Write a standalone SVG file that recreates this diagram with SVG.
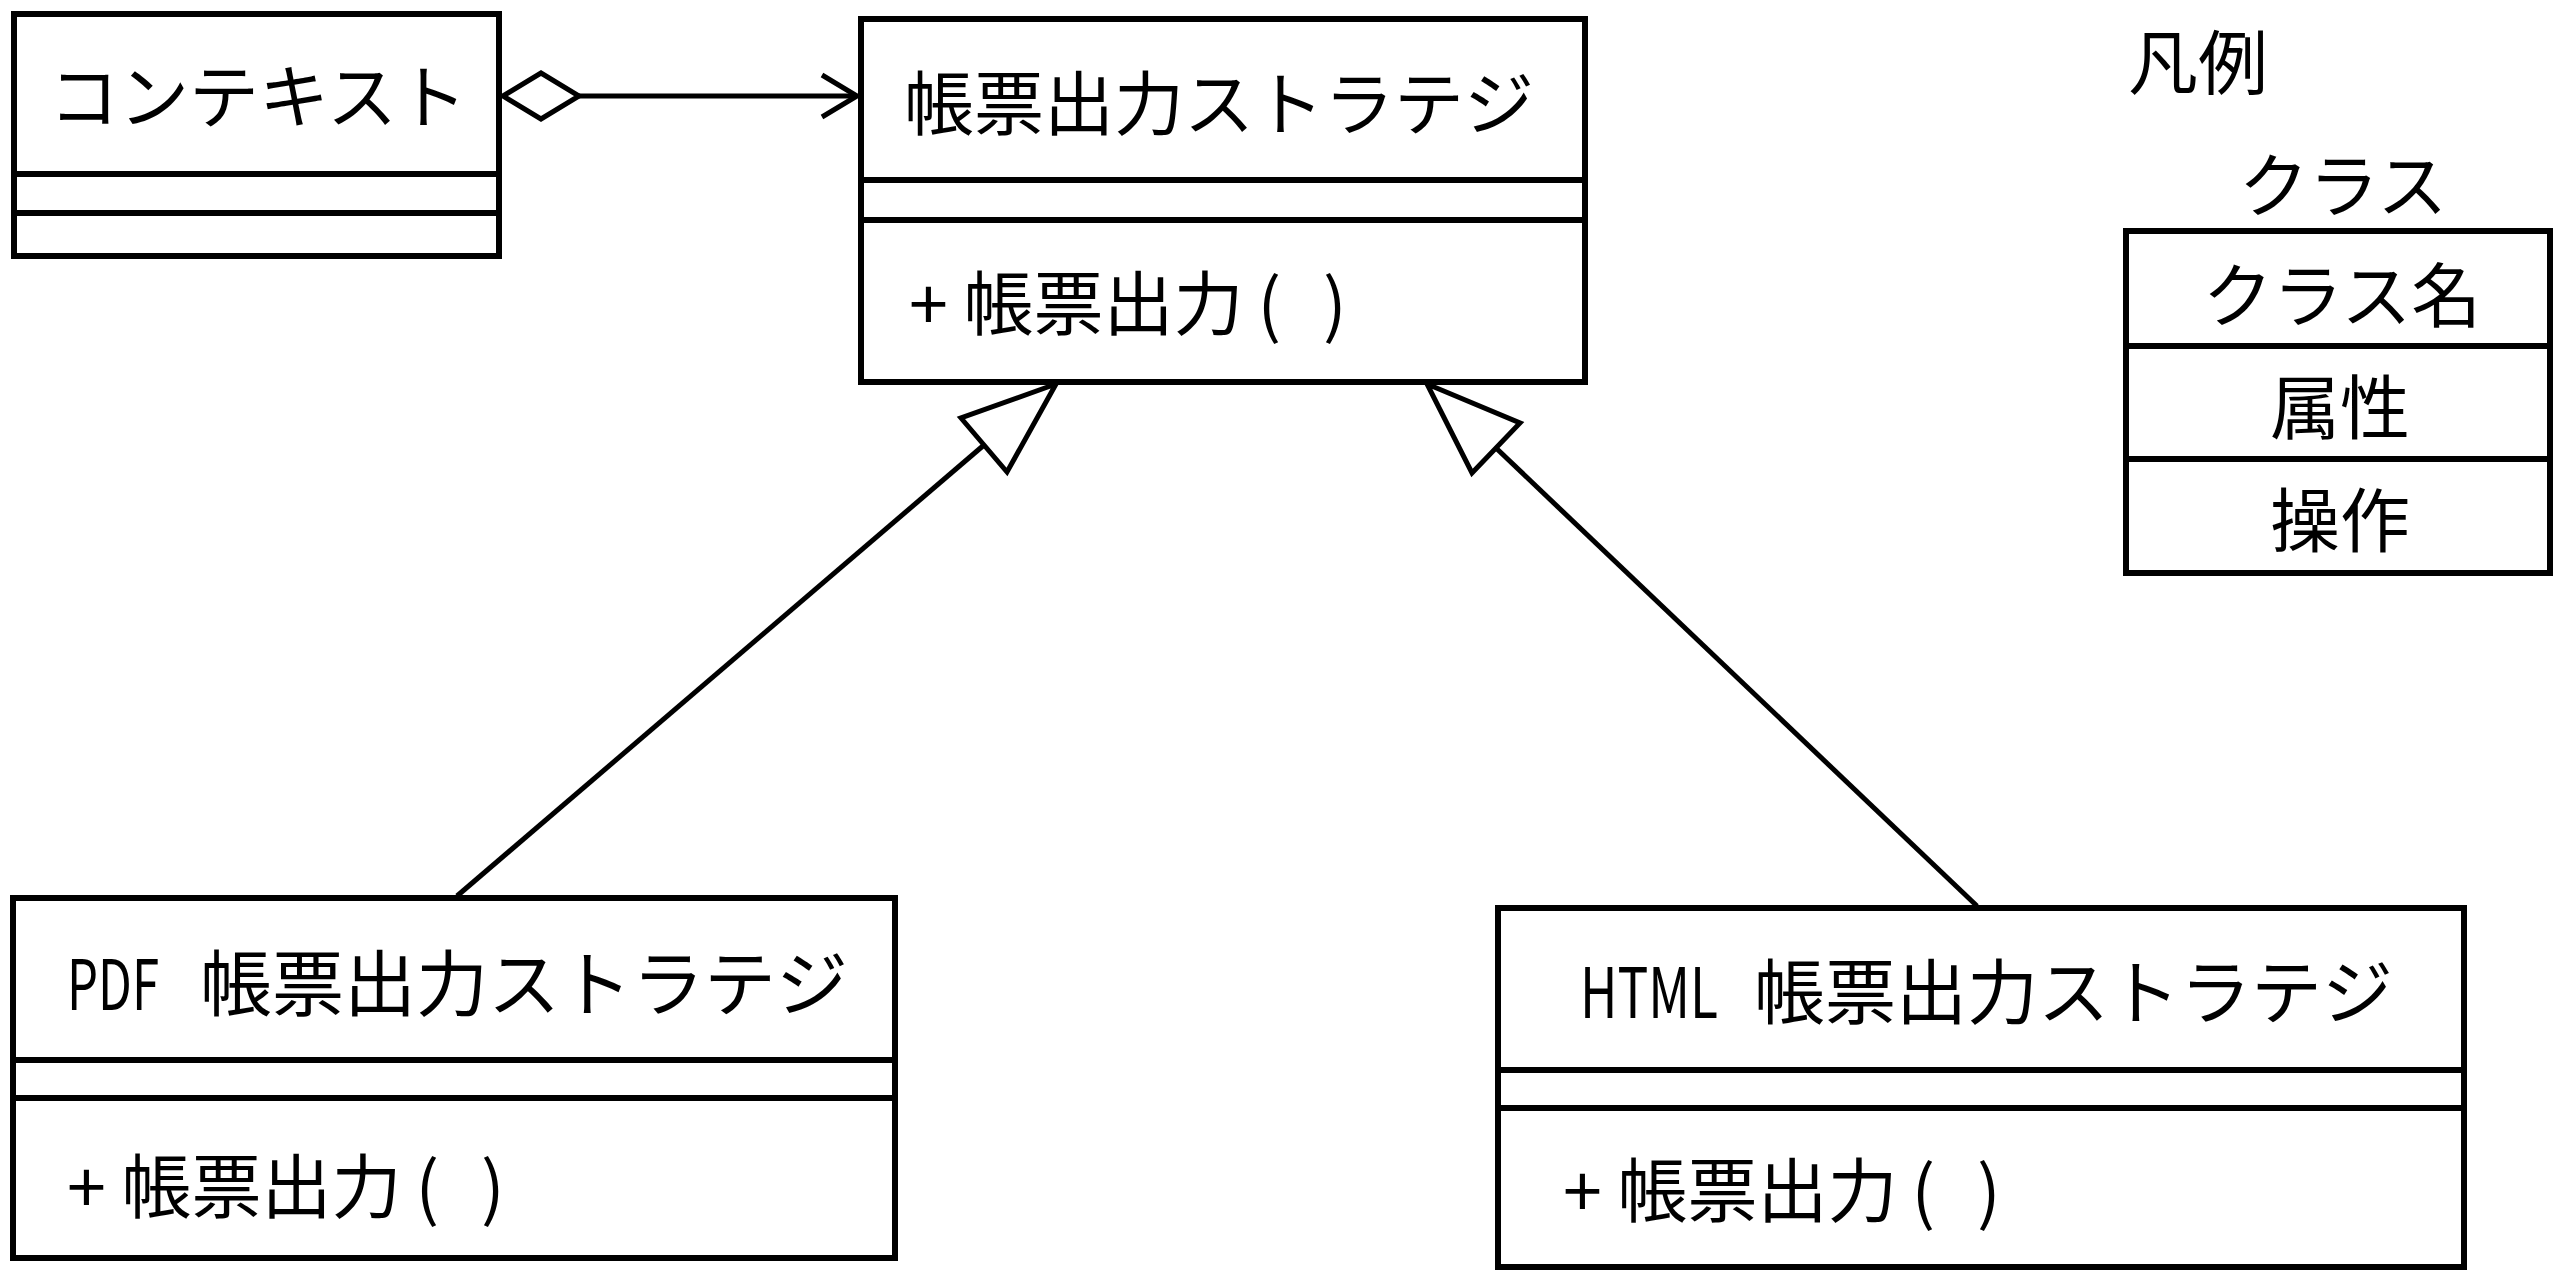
<svg xmlns="http://www.w3.org/2000/svg" width="2560" height="1283" viewBox="0 0 2560 1283">
<style>
.box{fill:#fff;stroke:#000;stroke-width:6}
.div{stroke:#000;stroke-width:6}
.t{font-family:"Noto Sans CJK JP","Noto Sans",sans-serif;font-size:70px;fill:#000}
.c{text-anchor:middle}
.ln{stroke:#000;stroke-width:5;fill:none}
.hd{fill:#fff;stroke:#000;stroke-width:5}
</style>
<rect width="2560" height="1283" fill="#fff"/>
<g id="connectors">
  <line class="ln" x1="578" y1="96" x2="856" y2="96"/>
  <polygon class="hd" points="503,96 541,73 579,96 541,119"/>
  <polyline class="ln" points="822,75 857,96 822,117"/>
  <line class="ln" x1="457" y1="896" x2="984" y2="445"/>
  <polygon class="hd" points="1056,384 1007,472 961,418"/>
  <line class="ln" x1="1977" y1="906" x2="1496" y2="448"/>
  <polygon class="hd" points="1427,384 1520,423 1472,473"/>
</g>
<g id="context">
  <rect class="box" x="14" y="14" width="485" height="242"/>
  <line class="div" x1="14" y1="174" x2="499" y2="174"/>
  <line class="div" x1="14" y1="213" x2="499" y2="213"/>
  <text class="t" x="49" y="123">コンテキスト</text>
</g>
<g id="strategy">
  <rect class="box" x="861" y="19" width="724" height="363"/>
  <line class="div" x1="861" y1="180" x2="1585" y2="180"/>
  <line class="div" x1="861" y1="220" x2="1585" y2="220"/>
  <text class="t" x="904" y="130">帳票出力ストラテジ</text>
  <text class="t" x="909" y="330">+ 帳票出力<tspan dx="14">(</tspan> <tspan dx="26">)</tspan></text>
</g>
<g id="pdf">
  <rect class="box" x="13" y="898" width="882" height="360"/>
  <line class="div" x1="13" y1="1060" x2="895" y2="1060"/>
  <line class="div" x1="13" y1="1098" x2="895" y2="1098"/>
  <text class="t" x="67" y="1010"><tspan textLength="92" lengthAdjust="spacingAndGlyphs">PDF</tspan> <tspan x="200" font-size="72">帳票出力ストラテジ</tspan></text>
  <text class="t" x="67" y="1213">+ 帳票出力<tspan dx="14">(</tspan> <tspan dx="26">)</tspan></text>
</g>
<g id="html">
  <rect class="box" x="1498" y="908" width="966" height="359"/>
  <line class="div" x1="1498" y1="1070" x2="2464" y2="1070"/>
  <line class="div" x1="1498" y1="1108" x2="2464" y2="1108"/>
  <text class="t" x="1580" y="1018"><tspan textLength="138" lengthAdjust="spacingAndGlyphs">HTML</tspan> <tspan x="1754" font-size="71">帳票出力ストラテジ</tspan></text>
  <text class="t" x="1563" y="1217">+ 帳票出力<tspan dx="14">(</tspan> <tspan dx="26">)</tspan></text>
</g>
<g id="legend">
  <text class="t" x="2128" y="89">凡例</text>
  <text class="t c" x="2343" y="212">クラス</text>
  <rect class="box" x="2126" y="231" width="424" height="342"/>
  <line class="div" x1="2126" y1="346" x2="2550" y2="346"/>
  <line class="div" x1="2126" y1="459" x2="2550" y2="459"/>
  <text class="t c" x="2342" y="322">クラス名</text>
  <text class="t c" x="2340" y="434">属性</text>
  <text class="t c" x="2340" y="547">操作</text>
</g>
</svg>
